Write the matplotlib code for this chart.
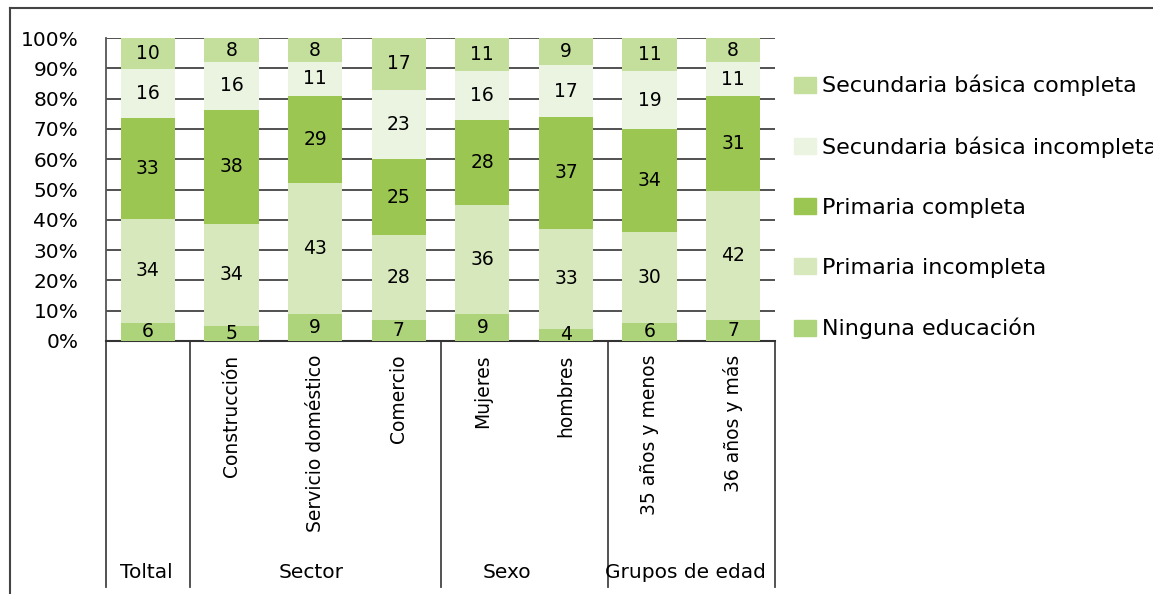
import matplotlib.pyplot as plt
from matplotlib.lines import Line2D
from matplotlib.patches import Patch
import numpy as np

categorias = ['Toltal', 'Construcción', 'Servicio doméstico', 'Comercio',
              'Mujeres', 'hombres', '35 años y menos', '36 años y más']
grupos = ['Toltal', 'Sector', 'Sexo', 'Grupos de edad']
niveles = ['Ninguna educación', 'Primaria incompleta', 'Primaria completa',
           'Secundaria básica incompleta', 'Secundaria básica completa']

ninguna = [6, 5, 9, 7, 9, 4, 6, 7]
prim_inc = [34, 34, 43, 28, 36, 33, 30, 42]
prim_comp = [33, 38, 29, 25, 28, 37, 34, 31]
sec_inc = [16, 16, 11, 23, 16, 17, 19, 11]
sec_comp = [10, 8, 8, 17, 11, 9, 11, 8]

colores = ['#ADD47A', '#D7E8BD', '#9BC652', '#EBF4E0', '#C3DF9B']

series = np.array([ninguna, prim_inc, prim_comp, sec_inc, sec_comp], dtype=float)
pct = series / series.sum(axis=0) * 100

fig = plt.figure(figsize=(11.53, 5.94), dpi=100)
ax = fig.add_axes([106/1153, 1-341/594, (775-106)/1153, (341-38)/594])

x = np.arange(len(categorias))
bottom = np.zeros(len(categorias))
for k in range(len(niveles)):
    ax.bar(x, pct[k], 0.65, bottom=bottom, color=colores[k], zorder=3)
    for i in range(len(x)):
        ax.text(x[i], bottom[i] + pct[k][i]/2, '%d' % series[k][i],
                ha='center', va='center', fontsize=13.5, zorder=4)
    bottom += pct[k]

ax.set_xlim(-0.5, 7.5)
ax.set_ylim(0, 100)
ax.set_yticks(np.arange(0, 101, 10))
ax.set_yticklabels(['%d%%' % v for v in range(0, 101, 10)], fontsize=14.5)
ax.tick_params(axis='y', length=0, pad=20)
ax.set_xticks([])
ax.grid(axis='y', color='#333333', linewidth=1.2, zorder=0)
for s in ['top', 'right']:
    ax.spines[s].set_visible(False)
ax.spines['left'].set_color('#555555')
ax.spines['left'].set_linewidth(1.3)
ax.spines['bottom'].set_color('#333333')
ax.spines['bottom'].set_linewidth(1.5)

tr = ax.get_xaxis_transform()
for i, c in enumerate(categorias[1:], start=1):
    ax.text(x[i], -0.045, c, rotation=90, ha='center', va='top',
            fontsize=13.5, transform=tr)

for xd in [-0.5, 0.5, 3.5, 5.5, 7.5]:
    ax.plot([xd, xd], [0, -0.812], color='#444444', lw=1.3,
            transform=tr, clip_on=False)

pos_grupos = [-0.02, 1.95, 4.30, 6.43]
for g, xp in zip(grupos, pos_grupos):
    ax.text(xp, -0.765, g, ha='center', va='center', fontsize=14.5,
            transform=tr)

handles = [Patch(color=colores[k]) for k in range(len(niveles))][::-1]
fig.legend(handles, niveles[::-1], loc='upper left',
           bbox_to_anchor=(785/1153, 1-66/594), frameon=False, fontsize=16,
           labelspacing=1.8, handlelength=1.0, handleheight=0.75,
           handletextpad=0.25, borderaxespad=0)

fig.add_artist(Line2D([10/1153, 1], [1-8/594, 1-8/594], color='#444444', lw=1.5))
fig.add_artist(Line2D([10/1153, 10/1153], [0, 1-8/594], color='#444444', lw=1.5))

fig.savefig('out.png', dpi=100)
